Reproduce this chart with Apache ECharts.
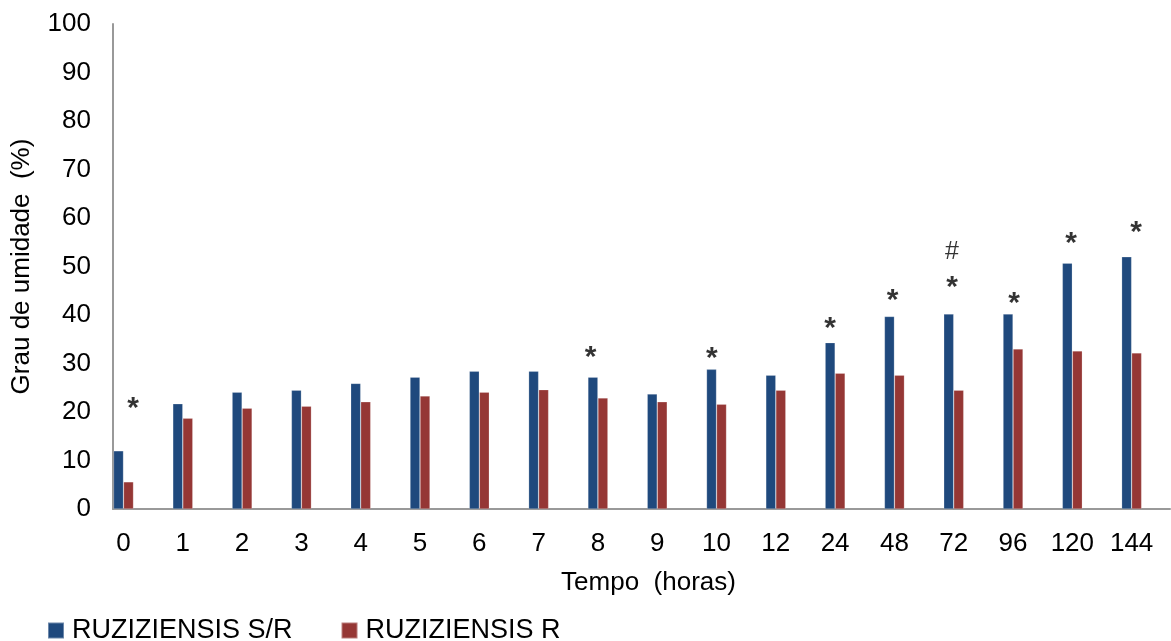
<!DOCTYPE html>
<html>
<head>
<meta charset="utf-8">
<script src="https://cdn.jsdelivr.net/npm/echarts@6/dist/echarts.min.js"></script>
<style>
html,body{margin:0;padding:0;background:#fff;}
#chart{width:1171px;height:641px;}
</style>
</head>
<body>
<div id="chart"></div>
<script>
// Categories (Tempo em horas)
const categories = ['0','1','2','3','4','5','6','7','8','9','10','12','24','48','72','96','120','144'];
// Series values (%)
const seriesSR = [12.0, 21.7, 24.1, 24.5, 25.9, 27.2, 28.4, 28.4, 27.2, 23.7, 28.8, 27.6, 34.3, 39.7, 40.2, 40.2, 50.7, 52.0];
const seriesR  = [5.6, 18.7, 20.8, 21.2, 22.1, 23.3, 24.1, 24.6, 22.9, 22.1, 21.6, 24.5, 28.0, 27.6, 24.5, 33.0, 32.6, 32.2];
const seriesNames = ['RUZIZIENSIS S/R', 'RUZIZIENSIS R'];
// Significance marks: symbol, position along category axis (category units), height (% units)
const annotText  = ['*', '*', '*', '*', '*', '*', '#', '*', '*', '*'];
const annotX     = [0.160, 7.875, 9.919, 11.914, 12.971, 13.971, 13.971, 15.017, 15.978, 17.074];
const annotLevel = [22.1, 32.7, 32.4, 38.6, 44.3, 47.0, 53.2, 43.7, 56.1, 58.4];
// Y ticks
const yMin = 0, yMax = 100, yStep = 10;

const FONT = 'Liberation Sans, Arial, sans-serif';
const catIdx = categories.map((c, i) => i);

const annotData = annotText.map((t, k) => ({
  value: [annotX[k], annotLevel[k]],
  name: t,
  label: t === '*'
    ? { fontSize: 30, fontWeight: 'bold', offset: [0, 7] }
    : { fontSize: 25, fontWeight: 'normal', offset: [0, 1] }
}));

const chart = echarts.init(document.getElementById('chart'));
chart.setOption({
  animation: false,
  backgroundColor: '#ffffff',
  textStyle: { fontFamily: FONT },
  grid: { left: 113, right: 1, top: 24, bottom: 132, containLabel: false, outerBoundsMode: 'none' },
  legend: {
    data: seriesNames,
    left: 42, top: 612,
    icon: 'rect', itemWidth: 16, itemHeight: 16, itemGap: 48,
    textStyle: { fontFamily: FONT, fontSize: 27, color: '#000', padding: [0, 0, 0, 3] }
  },
  xAxis: {
    type: 'value',
    min: -0.177, max: 17.647,
    name: 'Tempo  (horas)', nameLocation: 'middle', nameGap: 61,
    nameTextStyle: { fontFamily: FONT, fontSize: 26, color: '#000', padding: [0, 0, 0, 14] },
    axisLine: { show: true, onZero: false, lineStyle: { color: '#999999', width: 2 } },
    axisTick: { show: false },
    splitLine: { show: false },
    axisLabel: {
      customValues: catIdx,
      formatter: v => categories[Math.round(v)],
      fontFamily: FONT, fontSize: 26, color: '#000', margin: 22
    }
  },
  yAxis: {
    type: 'value', min: yMin, max: yMax, interval: yStep,
    name: 'Grau de umidade  (%)', nameLocation: 'middle', nameGap: 78,
    nameTextStyle: { fontFamily: FONT, fontSize: 26, color: '#000' },
    axisLine: { show: true, onZero: false, lineStyle: { color: '#999999', width: 2 } },
    axisTick: { show: false },
    splitLine: { show: false },
    axisLabel: { fontFamily: FONT, fontSize: 26, color: '#000', margin: 22 }
  },
  series: [
    {
      name: seriesNames[0], type: 'bar', barWidth: 10, barGap: '0%',
      itemStyle: { color: '#1f497d', borderColor: 'rgba(255,255,255,0.35)', borderWidth: 0.6 },
      data: seriesSR.map((v, i) => [i, v])
    },
    {
      name: seriesNames[1], type: 'bar', barWidth: 10, barGap: '0%',
      itemStyle: { color: '#953735', borderColor: 'rgba(255,255,255,0.35)', borderWidth: 0.6 },
      data: seriesR.map((v, i) => [i, v])
    },
    {
      type: 'scatter', symbolSize: 1, itemStyle: { color: 'rgba(0,0,0,0)' },
      silent: true,
      label: {
        show: true, position: 'inside', formatter: p => p.name,
        fontFamily: FONT, fontSize: 26, color: '#000'
      },
      data: annotData
    }
  ]
});
</script>
</body>
</html>
